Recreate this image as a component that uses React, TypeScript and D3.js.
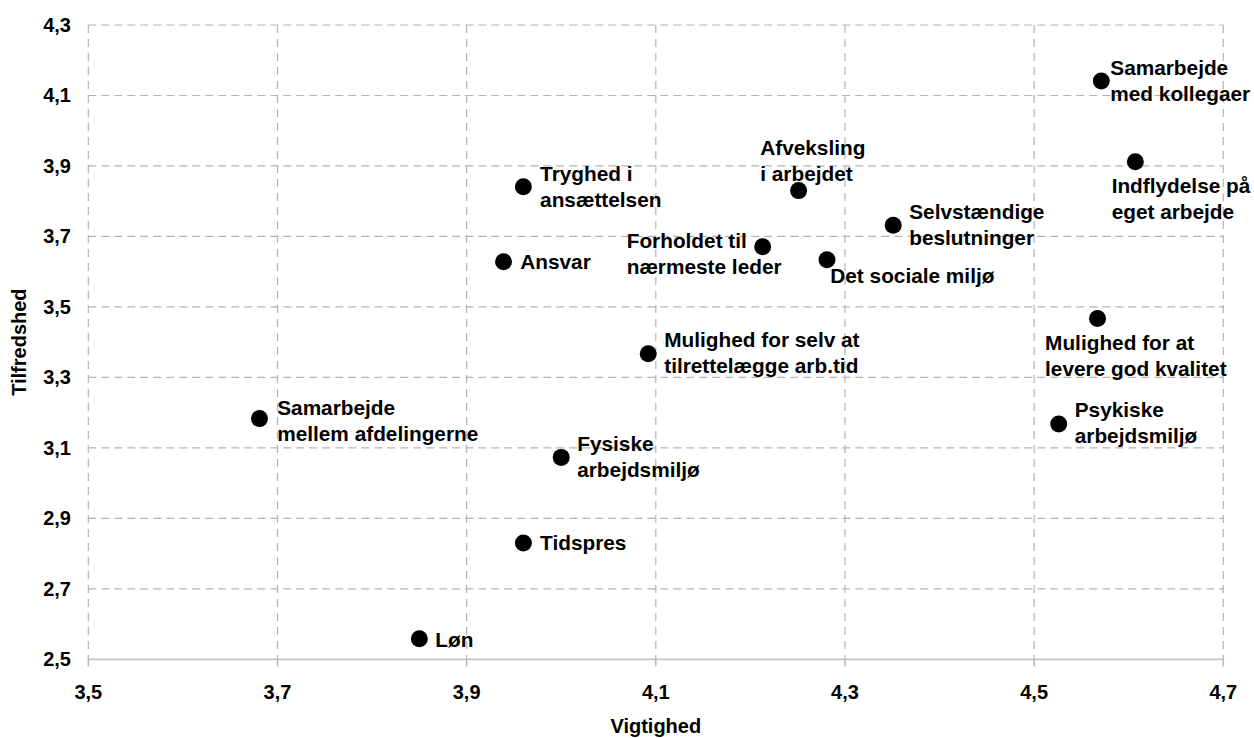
import React from "react";
import * as d3 from "d3";

// ---- data ----
const categories: string[][] = [
  ["Samarbejde", "med kollegaer"],
  ["Indflydelse på", "eget arbejde"],
  ["Afveksling", "i arbejdet"],
  ["Selvstændige", "beslutninger"],
  ["Forholdet til", "nærmeste leder"],
  ["Det sociale miljø"],
  ["Tryghed i", "ansættelsen"],
  ["Ansvar"],
  ["Samarbejde", "mellem afdelingerne"],
  ["Mulighed for at", "levere god kvalitet"],
  ["Psykiske", "arbejdsmiljø"],
  ["Mulighed for selv at", "tilrettelægge arb.tid"],
  ["Fysiske", "arbejdsmiljø"],
  ["Tidspres"],
  ["Løn"],
];
const vigtighed: number[] = [4.571, 4.607, 4.251, 4.351, 4.213, 4.281, 3.960, 3.939, 3.681, 4.567, 4.526, 4.092, 4.000, 3.960, 3.850];
const tilfredshed: number[] = [4.141, 3.912, 3.830, 3.732, 3.671, 3.634, 3.841, 3.628, 3.183, 3.467, 3.168, 3.367, 3.073, 2.830, 2.558];
const xTicks: number[] = [3.5, 3.7, 3.9, 4.1, 4.3, 4.5, 4.7];
const yTicks: number[] = [2.5, 2.7, 2.9, 3.1, 3.3, 3.5, 3.7, 3.9, 4.1, 4.3];

// label placement relative to dot (px): [dx, dy of first baseline]
const labelOffsets: [number, number][] = [
  [9, -6.5], [-23.7, 31], [-38.4, -36], [16, -5.7], [-136, 1.3], [3.3, 23],
  [16.7, -5.6], [16.7, 6.7], [17.7, -4], [-52.4, 31.7], [16, -6.7], [16, -6.6],
  [16, -6], [16.7, 6.7], [16, 7.7],
];

const W = 1254, H = 738;
const left = 88.3, right = 1223.3, top = 25, bottom = 659.3;
const font = "'Liberation Sans', Arial, sans-serif";
const gridColor = "#b4b4b4";

export default function App() {
  const x = d3.scaleLinear().domain([3.5, 4.7]).range([left, right]);
  const y = d3.scaleLinear().domain([2.5, 4.3]).range([bottom, top]);
  const fmt = (v: number) => d3.format(".1f")(v).replace(".", ",");
  const lineH = 26;

  return (
    <svg width={W} height={H} style={{ position: "absolute", left: 0, top: 0, background: "#fff" }} fontFamily={font}>
      <rect x={0} y={0} width={W} height={H} fill="#fff" />
      {xTicks.map((t) => (
        <line key={"gx" + t} x1={x(t)} x2={x(t)} y1={top} y2={bottom} stroke={gridColor} strokeWidth={1.2} strokeDasharray="8,6" />
      ))}
      {yTicks.filter((t) => t !== 2.5).map((t) => (
        <line key={"gy" + t} x1={left} x2={right} y1={y(t)} y2={y(t)} stroke={gridColor} strokeWidth={1.2} strokeDasharray="8,5" />
      ))}
      <line x1={left} x2={right} y1={bottom} y2={bottom} stroke="#c4c4c4" strokeWidth={1.8} />
      {xTicks.map((t) => (
        <line key={"tx" + t} x1={x(t)} x2={x(t)} y1={bottom} y2={bottom + 7} stroke="#b4b4b4" strokeWidth={1.5} />
      ))}
      {xTicks.map((t) => (
        <text key={"lx" + t} x={x(t)} y={bottom + 40} textAnchor="middle" fontSize={20} fontWeight="bold" fill="#000">
          {fmt(t)}
        </text>
      ))}
      {yTicks.map((t) => (
        <text key={"ly" + t} x={71} y={y(t) + 7} textAnchor="end" fontSize={20} fontWeight="bold" fill="#000">
          {fmt(t)}
        </text>
      ))}
      <text x={(left + right) / 2} y={733} textAnchor="middle" fontSize={20} fontWeight="bold">Vigtighed</text>
      <text transform={`translate(26,${(top + bottom) / 2}) rotate(-90)`} textAnchor="middle" fontSize={20} fontWeight="bold">Tilfredshed</text>
      {vigtighed.map((v, i) => (
        <circle key={"p" + i} cx={x(v)} cy={y(tilfredshed[i])} r={8.5} fill="#000" />
      ))}
      {categories.map((lines, i) => {
        const cx = x(vigtighed[i]);
        const cy = y(tilfredshed[i]);
        const [dx, dy] = labelOffsets[i];
        return (
          <text key={"t" + i} x={cx + dx} y={cy + dy} fontSize={20.8} fontWeight="bold" fill="#000">
            {lines.map((l, j) => (
              <tspan key={j} x={cx + dx} y={cy + dy + j * lineH}>{l}</tspan>
            ))}
          </text>
        );
      })}
    </svg>
  );
}
